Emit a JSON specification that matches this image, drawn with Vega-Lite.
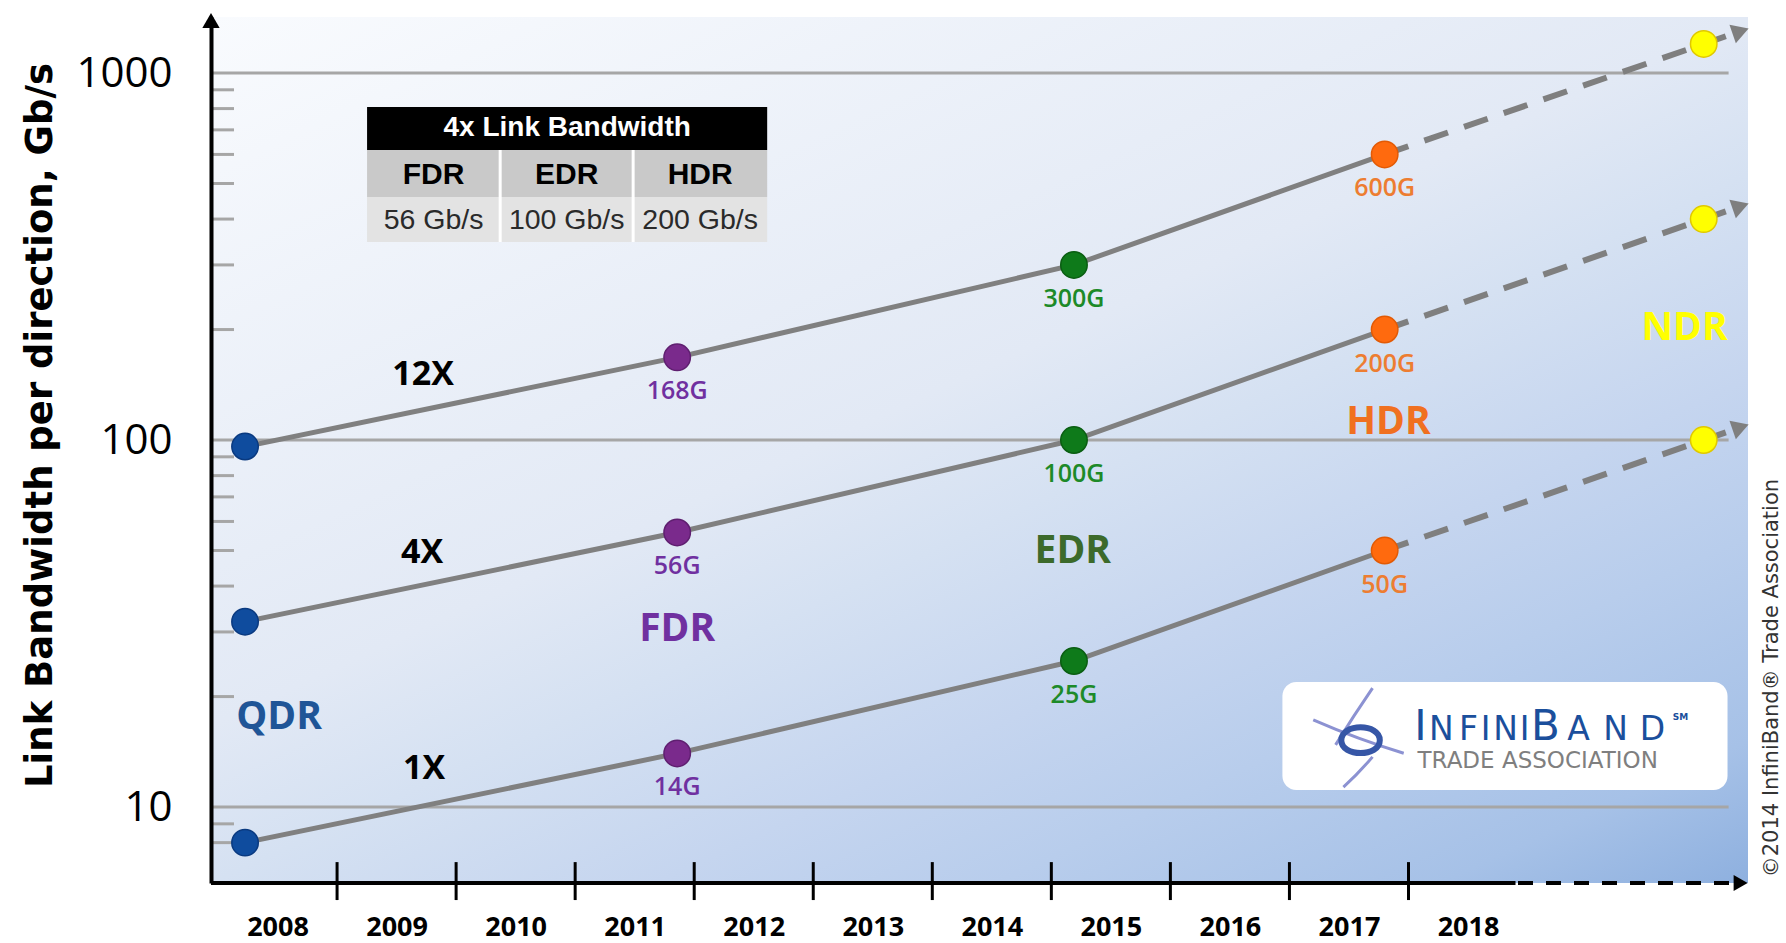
{
  "$schema": "https://vega.github.io/schema/vega-lite/v6.json",
  "width": 1537,
  "height": 866,
  "autosize": {"type": "none"},
  "padding": {"left": 211, "top": 17, "right": 38, "bottom": 60},
  "background": "white",
  "config": {"view": {"stroke": null}},
  "datasets": {
    "pts": [
      {"gen": "QDR", "year": 2007.727, "lane": "1X", "bw": 8, "lbl": null},
      {"gen": "QDR", "year": 2007.727, "lane": "4X", "bw": 32, "lbl": null},
      {"gen": "QDR", "year": 2007.727, "lane": "12X", "bw": 96, "lbl": null},
      {"gen": "FDR", "year": 2011.357, "lane": "1X", "bw": 14, "lbl": "14G"},
      {"gen": "FDR", "year": 2011.357, "lane": "4X", "bw": 56, "lbl": "56G"},
      {"gen": "FDR", "year": 2011.357, "lane": "12X", "bw": 168, "lbl": "168G"},
      {"gen": "EDR", "year": 2014.69, "lane": "1X", "bw": 25, "lbl": "25G"},
      {"gen": "EDR", "year": 2014.69, "lane": "4X", "bw": 100, "lbl": "100G"},
      {"gen": "EDR", "year": 2014.69, "lane": "12X", "bw": 300, "lbl": "300G"},
      {"gen": "HDR", "year": 2017.3, "lane": "1X", "bw": 50, "lbl": "50G"},
      {"gen": "HDR", "year": 2017.3, "lane": "4X", "bw": 200, "lbl": "200G"},
      {"gen": "HDR", "year": 2017.3, "lane": "12X", "bw": 600, "lbl": "600G"},
      {"gen": "NDR", "year": 2019.98, "lane": "1X", "bw": 100, "lbl": null},
      {"gen": "NDR", "year": 2019.98, "lane": "4X", "bw": 400, "lbl": null},
      {"gen": "NDR", "year": 2019.98, "lane": "12X", "bw": 1200, "lbl": null}
    ],
    "dash": [
      {"lane": "1X", "year": 2017.3, "bw": 50},
      {"lane": "1X", "year": 2020.22, "bw": 106.4},
      {"lane": "4X", "year": 2017.3, "bw": 200},
      {"lane": "4X", "year": 2020.22, "bw": 425.6},
      {"lane": "12X", "year": 2017.3, "bw": 600},
      {"lane": "12X", "year": 2020.22, "bw": 1277}
    ],
    "arrows": [
      {"lane": "1X", "year": 2020.29, "bw": 108.4},
      {"lane": "4X", "year": 2020.29, "bw": 433.5},
      {"lane": "12X", "year": 2020.29, "bw": 1300}
    ],
    "gens": [
      {"gen": "QDR", "year": 2008.013, "bw": 17.6},
      {"gen": "FDR", "year": 2011.357, "bw": 30.5},
      {"gen": "EDR", "year": 2014.68, "bw": 49.8},
      {"gen": "HDR", "year": 2017.332, "bw": 112},
      {"gen": "NDR", "year": 2019.819, "bw": 202}
    ],
    "lanes": [
      {"lane": "12X", "year": 2009.223, "bw": 150.4},
      {"lane": "4X", "year": 2009.214, "bw": 49.2},
      {"lane": "1X", "year": 2009.231, "bw": 12.7}
    ],
    "logoBig": [
      {"s": "I", "x": 2017.601},
      {"s": "B", "x": 2018.651}
    ],
    "logoSmall": [
      {"s": "N", "x": 2017.777},
      {"s": "F", "x": 2018.004},
      {"s": "I", "x": 2018.147},
      {"s": "N", "x": 2018.315},
      {"s": "I", "x": 2018.475},
      {"s": "A", "x": 2018.929},
      {"s": "N", "x": 2019.239},
      {"s": "D", "x": 2019.55}
    ]
  },
  "layer": [
    {
      "data": {"values": [{}]},
      "mark": {"type": "rect", "fill": {"gradient": "linear", "x1": 0, "y1": 0, "x2": 0.891, "y2": 1.089,
        "stops": [
          {"offset": 0, "color": "#f9fbfe"},
          {"offset": 0.45, "color": "#e2e9f5"},
          {"offset": 0.55, "color": "#d5e1f2"},
          {"offset": 0.68, "color": "#c5d5ef"},
          {"offset": 0.78, "color": "#b8cdec"},
          {"offset": 0.91, "color": "#a6c1e7"},
          {"offset": 1, "color": "#8eb0df"}
        ]}},
      "encoding": {
        "x": {"datum": 2007.441, "type": "quantitative",
          "scale": {"type": "linear", "domain": [2007.441, 2020.352], "nice": false, "zero": false},
          "axis": {"values": [2008, 2009, 2010, 2011, 2012, 2013, 2014, 2015, 2016, 2017, 2018], "format": "d", "title": null,
            "domain": false, "ticks": false, "tickSize": 0, "grid": false,
            "labelFont": "Open Sans", "labelFontWeight": "bold", "labelFontSize": 27, "labelColor": "#000000",
            "labelPadding": 31, "labelFlush": false, "labelOverlap": false, "zindex": 1}},
        "x2": {"datum": 2020.352},
        "y": {"datum": 6.21, "type": "quantitative",
          "scale": {"type": "log", "domain": [6.21, 1421], "nice": false},
          "axis": {"values": [10, 100, 1000], "format": "d", "title": "Link Bandwidth per direction, Gb/s",
            "titleFont": "DejaVu Sans", "titleFontWeight": "bold", "titleFontSize": 37, "titleColor": "#000000",
            "titleX": -171, "titleY": 408, "titleAngle": 270, "titleBaseline": "middle", "titleAlign": "center",
            "domain": true, "domainColor": "#000000", "domainWidth": 4, "ticks": false, "tickSize": 0, "grid": false,
            "labelFont": "Open Sans", "labelFontSize": 42, "labelColor": "#000000", "labelPadding": 39,
            "labelFlush": false, "labelOverlap": false, "zindex": 1}},
        "y2": {"datum": 1421}
      }
    },
    {
      "data": {"values": [{"v": 10}, {"v": 100}, {"v": 1000}]},
      "mark": {"type": "rule", "color": "#a6a6a6", "strokeWidth": 3},
      "encoding": {
        "x": {"datum": 2007.441, "type": "quantitative", "scale": {"type": "linear", "domain": [2007.441, 2020.352], "nice": false, "zero": false}},
        "x2": {"datum": 2020.189},
        "y": {"field": "v", "type": "quantitative", "scale": {"type": "log", "domain": [6.21, 1421], "nice": false}}
      }
    },
    {
      "data": {"values": [{"v": 8}, {"v": 9}, {"v": 20}, {"v": 30}, {"v": 40}, {"v": 50}, {"v": 60}, {"v": 70}, {"v": 80}, {"v": 90}, {"v": 200}, {"v": 300}, {"v": 400}, {"v": 500}, {"v": 600}, {"v": 700}, {"v": 800}, {"v": 900}]},
      "mark": {"type": "rule", "color": "#a6a6a6", "strokeWidth": 3},
      "encoding": {
        "x": {"datum": 2007.45, "type": "quantitative", "scale": {"type": "linear", "domain": [2007.441, 2020.352], "nice": false, "zero": false}},
        "x2": {"datum": 2007.634},
        "y": {"field": "v", "type": "quantitative", "scale": {"type": "log", "domain": [6.21, 1421], "nice": false}}
      }
    },
    {
      "data": {"values": [{}]},
      "mark": {"type": "rule", "color": "#000000", "strokeWidth": 4},
      "encoding": {
        "x": {"datum": 2007.441, "type": "quantitative", "scale": {"type": "linear", "domain": [2007.441, 2020.352], "nice": false, "zero": false}},
        "x2": {"datum": 2018.399},
        "y": {"datum": 6.21, "type": "quantitative", "scale": {"type": "log", "domain": [6.21, 1421], "nice": false}}
      }
    },
    {
      "data": {"values": [{}]},
      "mark": {"type": "rule", "color": "#000000", "strokeWidth": 4, "strokeDash": [15, 13]},
      "encoding": {
        "x": {"datum": 2018.42, "type": "quantitative", "scale": {"type": "linear", "domain": [2007.441, 2020.352], "nice": false, "zero": false}},
        "x2": {"datum": 2020.22},
        "y": {"datum": 6.21, "type": "quantitative", "scale": {"type": "log", "domain": [6.21, 1421], "nice": false}}
      }
    },
    {
      "data": {"values": [{"t": 2008.5}, {"t": 2009.5}, {"t": 2010.5}, {"t": 2011.5}, {"t": 2012.5}, {"t": 2013.5}, {"t": 2014.5}, {"t": 2015.5}, {"t": 2016.5}, {"t": 2017.5}]},
      "mark": {"type": "rule", "color": "#000000", "strokeWidth": 3},
      "encoding": {
        "x": {"field": "t", "type": "quantitative", "scale": {"type": "linear", "domain": [2007.441, 2020.352], "nice": false, "zero": false}},
        "y": {"datum": 7.08, "type": "quantitative", "scale": {"type": "log", "domain": [6.21, 1421], "nice": false}},
        "y2": {"datum": 5.58}
      }
    },
    {
      "data": {"values": [{}]},
      "mark": {"type": "point", "shape": "triangle-right", "size": 260, "filled": true, "fill": "#000000", "strokeWidth": 0, "opacity": 1},
      "encoding": {
        "x": {"datum": 2020.29, "type": "quantitative", "scale": {"type": "linear", "domain": [2007.441, 2020.352], "nice": false, "zero": false}},
        "y": {"datum": 6.21, "type": "quantitative", "scale": {"type": "log", "domain": [6.21, 1421], "nice": false}}
      }
    },
    {
      "data": {"values": [{}]},
      "mark": {"type": "point", "shape": "triangle-up", "size": 300, "filled": true, "fill": "#000000", "strokeWidth": 0, "opacity": 1},
      "encoding": {
        "x": {"datum": 2007.441, "type": "quantitative", "scale": {"type": "linear", "domain": [2007.441, 2020.352], "nice": false, "zero": false}},
        "y": {"datum": 1390, "type": "quantitative", "scale": {"type": "log", "domain": [6.21, 1421], "nice": false}}
      }
    },
    {
      "data": {"name": "pts"},
      "transform": [{"filter": "datum.gen != 'NDR'"}],
      "mark": {"type": "line", "color": "#808080", "strokeWidth": 5},
      "encoding": {
        "x": {"field": "year", "type": "quantitative", "scale": {"type": "linear", "domain": [2007.441, 2020.352], "nice": false, "zero": false}},
        "y": {"field": "bw", "type": "quantitative", "scale": {"type": "log", "domain": [6.21, 1421], "nice": false}},
        "detail": {"field": "lane"}
      }
    },
    {
      "data": {"name": "dash"},
      "mark": {"type": "line", "color": "#7f7f7f", "strokeWidth": 6, "strokeDash": [25, 17]},
      "encoding": {
        "x": {"field": "year", "type": "quantitative", "scale": {"type": "linear", "domain": [2007.441, 2020.352], "nice": false, "zero": false}},
        "y": {"field": "bw", "type": "quantitative", "scale": {"type": "log", "domain": [6.21, 1421], "nice": false}},
        "detail": {"field": "lane"}
      }
    },
    {
      "data": {"name": "arrows"},
      "mark": {"type": "point", "shape": "triangle-right", "size": 380, "angle": -19.1, "filled": true, "fill": "#7f7f7f", "strokeWidth": 0, "opacity": 1},
      "encoding": {
        "x": {"field": "year", "type": "quantitative", "scale": {"type": "linear", "domain": [2007.441, 2020.352], "nice": false, "zero": false}},
        "y": {"field": "bw", "type": "quantitative", "scale": {"type": "log", "domain": [6.21, 1421], "nice": false}}
      }
    },
    {
      "data": {"name": "pts"},
      "mark": {"type": "point", "shape": "circle", "size": 700, "filled": true, "strokeWidth": 1.5, "opacity": 1},
      "encoding": {
        "x": {"field": "year", "type": "quantitative", "scale": {"type": "linear", "domain": [2007.441, 2020.352], "nice": false, "zero": false}},
        "y": {"field": "bw", "type": "quantitative", "scale": {"type": "log", "domain": [6.21, 1421], "nice": false}},
        "fill": {"field": "gen", "type": "nominal", "legend": null,
          "scale": {"domain": ["QDR", "FDR", "EDR", "HDR", "NDR"], "range": ["#0f4c9e", "#7a2a8c", "#0e7a1a", "#ff6a0e", "#ffff00"]}},
        "stroke": {"field": "gen", "type": "nominal", "legend": null,
          "scale": {"domain": ["QDR", "FDR", "EDR", "HDR", "NDR"], "range": ["#0a3a80", "#5f1f70", "#0a5e12", "#e25a05", "#e0c800"]}}
      }
    },
    {
      "data": {"name": "pts"},
      "transform": [{"filter": "datum.lbl != null"}],
      "mark": {"type": "text", "font": "Open Sans", "fontWeight": 600, "fontSize": 25, "dy": 34, "baseline": "middle", "align": "center"},
      "encoding": {
        "x": {"field": "year", "type": "quantitative", "scale": {"type": "linear", "domain": [2007.441, 2020.352], "nice": false, "zero": false}},
        "y": {"field": "bw", "type": "quantitative", "scale": {"type": "log", "domain": [6.21, 1421], "nice": false}},
        "text": {"field": "lbl"},
        "color": {"field": "gen", "type": "nominal", "legend": null,
          "scale": {"domain": ["FDR", "EDR", "HDR"], "range": ["#7030a0", "#1d8a28", "#ed7d31"]}}
      }
    },
    {
      "data": {"name": "gens"},
      "mark": {"type": "text", "font": "Open Sans", "fontWeight": "bold", "fontSize": 39, "baseline": "middle", "align": "center"},
      "encoding": {
        "x": {"field": "year", "type": "quantitative", "scale": {"type": "linear", "domain": [2007.441, 2020.352], "nice": false, "zero": false}},
        "y": {"field": "bw", "type": "quantitative", "scale": {"type": "log", "domain": [6.21, 1421], "nice": false}},
        "text": {"field": "gen"},
        "color": {"field": "gen", "type": "nominal", "legend": null,
          "scale": {"domain": ["QDR", "FDR", "EDR", "HDR", "NDR"], "range": ["#1f5597", "#7030a0", "#3c6a2b", "#f07020", "#ffff00"]}}
      }
    },
    {
      "data": {"name": "lanes"},
      "mark": {"type": "text", "font": "Open Sans", "fontWeight": "bold", "fontSize": 34, "baseline": "middle", "align": "center", "color": "#000000"},
      "encoding": {
        "x": {"field": "year", "type": "quantitative", "scale": {"type": "linear", "domain": [2007.441, 2020.352], "nice": false, "zero": false}},
        "y": {"field": "bw", "type": "quantitative", "scale": {"type": "log", "domain": [6.21, 1421], "nice": false}},
        "text": {"field": "lane"}
      }
    },
    {
      "data": {"values": [{}]},
      "mark": {"type": "rect", "color": "#000000"},
      "encoding": {
        "x": {"datum": 2008.752, "type": "quantitative", "scale": {"type": "linear", "domain": [2007.441, 2020.352], "nice": false, "zero": false}},
        "x2": {"datum": 2012.113},
        "y": {"datum": 807.9, "type": "quantitative", "scale": {"type": "log", "domain": [6.21, 1421], "nice": false}},
        "y2": {"datum": 617}
      }
    },
    {
      "data": {"values": [{}]},
      "mark": {"type": "rect", "color": "#c9c9c9"},
      "encoding": {
        "x": {"datum": 2008.752, "type": "quantitative", "scale": {"type": "linear", "domain": [2007.441, 2020.352], "nice": false, "zero": false}},
        "x2": {"datum": 2012.113},
        "y": {"datum": 617, "type": "quantitative", "scale": {"type": "log", "domain": [6.21, 1421], "nice": false}},
        "y2": {"datum": 459.4}
      }
    },
    {
      "data": {"values": [{}]},
      "mark": {"type": "rect", "color": "#e3e3e3"},
      "encoding": {
        "x": {"datum": 2008.752, "type": "quantitative", "scale": {"type": "linear", "domain": [2007.441, 2020.352], "nice": false, "zero": false}},
        "x2": {"datum": 2012.113},
        "y": {"datum": 459.4, "type": "quantitative", "scale": {"type": "log", "domain": [6.21, 1421], "nice": false}},
        "y2": {"datum": 346.3}
      }
    },
    {
      "data": {"values": [{"c": 2009.87}, {"c": 2010.987}]},
      "mark": {"type": "rule", "color": "#ffffff", "strokeWidth": 3},
      "encoding": {
        "x": {"field": "c", "type": "quantitative", "scale": {"type": "linear", "domain": [2007.441, 2020.352], "nice": false, "zero": false}},
        "y": {"datum": 617, "type": "quantitative", "scale": {"type": "log", "domain": [6.21, 1421], "nice": false}},
        "y2": {"datum": 346.3}
      }
    },
    {
      "data": {"values": [{"t": "4x Link Bandwidth"}]},
      "mark": {"type": "text", "font": "Liberation Sans", "fontWeight": "bold", "fontSize": 28, "color": "#ffffff", "baseline": "middle", "align": "center"},
      "encoding": {
        "x": {"datum": 2010.433, "type": "quantitative", "scale": {"type": "linear", "domain": [2007.441, 2020.352], "nice": false, "zero": false}},
        "y": {"datum": 706, "type": "quantitative", "scale": {"type": "log", "domain": [6.21, 1421], "nice": false}},
        "text": {"field": "t"}
      }
    },
    {
      "data": {"values": [{"c": "FDR", "x": 2009.311}, {"c": "EDR", "x": 2010.429}, {"c": "HDR", "x": 2011.55}]},
      "mark": {"type": "text", "font": "Liberation Sans", "fontWeight": "bold", "fontSize": 30, "color": "#000000", "baseline": "middle", "align": "center"},
      "encoding": {
        "x": {"field": "x", "type": "quantitative", "scale": {"type": "linear", "domain": [2007.441, 2020.352], "nice": false, "zero": false}},
        "y": {"datum": 527, "type": "quantitative", "scale": {"type": "log", "domain": [6.21, 1421], "nice": false}},
        "text": {"field": "c"}
      }
    },
    {
      "data": {"values": [{"c": "56 Gb/s", "x": 2009.311}, {"c": "100 Gb/s", "x": 2010.429}, {"c": "200 Gb/s", "x": 2011.55}]},
      "mark": {"type": "text", "font": "Liberation Sans", "fontSize": 28.5, "color": "#2a2a2a", "baseline": "middle", "align": "center"},
      "encoding": {
        "x": {"field": "x", "type": "quantitative", "scale": {"type": "linear", "domain": [2007.441, 2020.352], "nice": false, "zero": false}},
        "y": {"datum": 397.7, "type": "quantitative", "scale": {"type": "log", "domain": [6.21, 1421], "nice": false}},
        "text": {"field": "c"}
      }
    },
    {
      "data": {"values": [{}]},
      "mark": {"type": "rect", "color": "#ffffff", "cornerRadius": 14},
      "encoding": {
        "x": {"datum": 2016.441, "type": "quantitative", "scale": {"type": "linear", "domain": [2007.441, 2020.352], "nice": false, "zero": false}},
        "x2": {"datum": 2020.18},
        "y": {"datum": 21.9, "type": "quantitative", "scale": {"type": "log", "domain": [6.21, 1421], "nice": false}},
        "y2": {"datum": 11.13}
      }
    },
    {
      "data": {"values": [{}]},
      "mark": {"type": "point", "shape": "M 0.27 -0.94 Q -0.1 -0.4 -0.44 0.15 M -0.87 -0.33 Q 0 0.05 0.87 0.31 M 0.27 0.38 Q 0 0.7 -0.29 0.96", "size": 10816, "filled": false, "stroke": "#8c92d2", "strokeWidth": 3, "opacity": 1},
      "encoding": {
        "x": {"datum": 2017.08, "type": "quantitative", "scale": {"type": "linear", "domain": [2007.441, 2020.352], "nice": false, "zero": false}},
        "y": {"datum": 15.51, "type": "quantitative", "scale": {"type": "log", "domain": [6.21, 1421], "nice": false}}
      }
    },
    {
      "data": {"values": [{}]},
      "mark": {"type": "point", "shape": "M -0.33 0.06 C -0.33 -0.27 0.41 -0.27 0.41 0.06 C 0.41 0.39 -0.33 0.39 -0.33 0.06 Z", "size": 10816, "filled": false, "stroke": "#3656a6", "strokeWidth": 6, "opacity": 1},
      "encoding": {
        "x": {"datum": 2017.08, "type": "quantitative", "scale": {"type": "linear", "domain": [2007.441, 2020.352], "nice": false, "zero": false}},
        "y": {"datum": 15.51, "type": "quantitative", "scale": {"type": "log", "domain": [6.21, 1421], "nice": false}}
      }
    },
    {
      "data": {"name": "logoBig"},
      "mark": {"type": "text", "font": "DejaVu Sans", "fontSize": 42, "color": "#1b4f9c", "baseline": "alphabetic", "align": "center"},
      "encoding": {
        "x": {"field": "x", "type": "quantitative", "scale": {"type": "linear", "domain": [2007.441, 2020.352], "nice": false, "zero": false}},
        "y": {"datum": 15.23, "type": "quantitative", "scale": {"type": "log", "domain": [6.21, 1421], "nice": false}},
        "text": {"field": "s"}
      }
    },
    {
      "data": {"name": "logoSmall"},
      "mark": {"type": "text", "font": "DejaVu Sans", "fontSize": 33, "color": "#1b4f9c", "baseline": "alphabetic", "align": "center"},
      "encoding": {
        "x": {"field": "x", "type": "quantitative", "scale": {"type": "linear", "domain": [2007.441, 2020.352], "nice": false, "zero": false}},
        "y": {"datum": 15.23, "type": "quantitative", "scale": {"type": "log", "domain": [6.21, 1421], "nice": false}},
        "text": {"field": "s"}
      }
    },
    {
      "data": {"values": [{"s": "TRADE ASSOCIATION"}]},
      "mark": {"type": "text", "font": "DejaVu Sans", "fontSize": 23, "color": "#7f7f7f", "baseline": "alphabetic", "align": "left"},
      "encoding": {
        "x": {"datum": 2017.576, "type": "quantitative", "scale": {"type": "linear", "domain": [2007.441, 2020.352], "nice": false, "zero": false}},
        "y": {"datum": 12.77, "type": "quantitative", "scale": {"type": "log", "domain": [6.21, 1421], "nice": false}},
        "text": {"field": "s"}
      }
    },
    {
      "data": {"values": [{"s": "SM"}]},
      "mark": {"type": "text", "font": "DejaVu Sans", "fontSize": 9, "fontWeight": "bold", "color": "#1b4f9c", "baseline": "alphabetic", "align": "left"},
      "encoding": {
        "x": {"datum": 2019.72, "type": "quantitative", "scale": {"type": "linear", "domain": [2007.441, 2020.352], "nice": false, "zero": false}},
        "y": {"datum": 17.3, "type": "quantitative", "scale": {"type": "log", "domain": [6.21, 1421], "nice": false}},
        "text": {"field": "s"}
      }
    },
    {
      "data": {"values": [{"s": "©2014 InfiniBand® Trade Association"}]},
      "mark": {"type": "text", "font": "DejaVu Sans", "fontSize": 21, "color": "#333333", "baseline": "middle", "align": "center", "angle": 270},
      "encoding": {
        "x": {"datum": 2020.55, "type": "quantitative", "scale": {"type": "linear", "domain": [2007.441, 2020.352], "nice": false, "zero": false}},
        "y": {"datum": 22.46, "type": "quantitative", "scale": {"type": "log", "domain": [6.21, 1421], "nice": false}},
        "text": {"field": "s"}
      }
    }
  ],
  "resolve": {"scale": {"color": "independent"}}
}
